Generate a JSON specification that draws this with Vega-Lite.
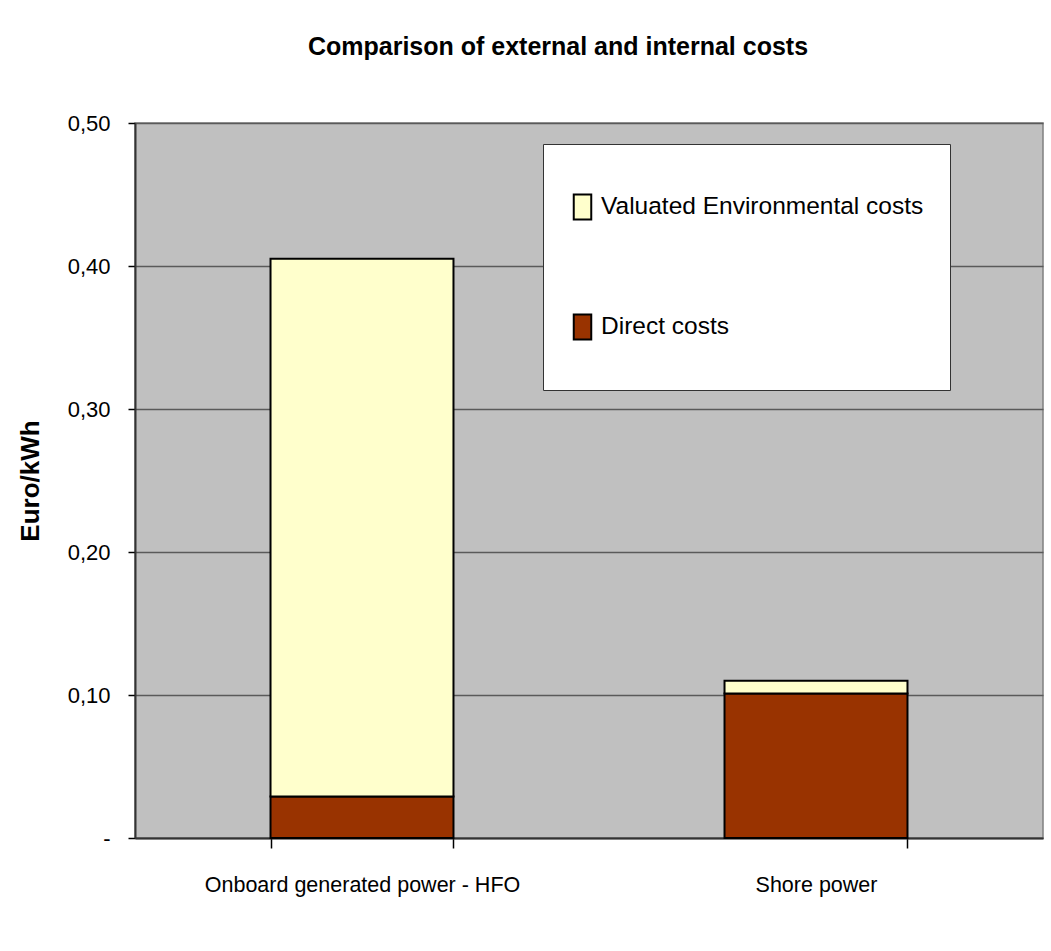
{
  "$schema": "https://vega.github.io/schema/vega-lite/v6.json",
  "width": 908,
  "height": 715,
  "autosize": {"type": "none"},
  "padding": {"left": 135, "top": 123, "right": 8, "bottom": 113},
  "background": "white",
  "title": {
    "text": "Comparison of external and internal costs",
    "font": "Liberation Sans",
    "fontSize": 25,
    "fontWeight": "bold",
    "color": "black",
    "anchor": "middle",
    "dx": -31,
    "offset": 52
  },
  "data": {
    "values": [
      {"category": "Onboard generated power - HFO", "type": "Direct costs", "value": 0.029},
      {"category": "Onboard generated power - HFO", "type": "Valuated Environmental costs", "value": 0.376},
      {"category": "Shore power", "type": "Direct costs", "value": 0.101},
      {"category": "Shore power", "type": "Valuated Environmental costs", "value": 0.009}
    ]
  },
  "mark": {"type": "bar", "stroke": "black", "strokeWidth": 2},
  "encoding": {
    "x": {
      "field": "category",
      "type": "nominal",
      "sort": null,
      "scale": {"paddingInner": 0.597, "paddingOuter": 0.2985},
      "axis": {
        "title": null,
        "labelAngle": 0,
        "labelFont": "Liberation Sans",
        "labelFontSize": 21.5,
        "labelColor": "black",
        "labelPadding": 26,
        "labelLimit": 500,
        "tickSize": 10,
        "tickColor": "black",
        "tickWidth": 1.5,
        "tickBand": "extent",
        "domainColor": "#333333",
        "domainWidth": 2,
        "grid": false
      }
    },
    "y": {
      "field": "value",
      "type": "quantitative",
      "stack": "zero",
      "scale": {"domain": [0, 0.5], "nice": false},
      "axis": {
        "title": "Euro/kWh",
        "titleFont": "Liberation Sans",
        "titleFontSize": 26,
        "titleFontWeight": "bold",
        "titleColor": "black",
        "titlePadding": 24,
        "values": [0, 0.1, 0.2, 0.3, 0.4, 0.5],
        "labelExpr": "datum.value == 0 ? '-\u00a0\u00a0\u00a0\u00a0' : replace(format(datum.value, '.2f'), '.', ',')",
        "labelFont": "Liberation Sans",
        "labelFontSize": 22,
        "labelColor": "black",
        "labelPadding": 18,
        "tickSize": 7,
        "tickColor": "black",
        "tickWidth": 1.5,
        "domainColor": "#333333",
        "domainWidth": 2,
        "gridColor": "#5a5a5a",
        "gridWidth": 1.5
      }
    },
    "order": {"field": "type", "sort": "ascending"},
    "color": {
      "field": "type",
      "type": "nominal",
      "scale": {
        "domain": ["Valuated Environmental costs", "Direct costs"],
        "range": ["#FFFFCC", "#993300"]
      },
      "legend": {
        "title": null,
        "orient": "none",
        "legendX": 408,
        "legendY": 21,
        "fillColor": "white",
        "strokeColor": "#333333",
        "padding": 26,
        "labelFont": "Liberation Sans",
        "labelFontSize": 24.5,
        "labelColor": "black",
        "labelOffset": 5,
        "labelLimit": 500,
        "symbolType": "M-0.7,-1L0.7,-1L0.7,1L-0.7,1Z",
        "symbolSize": 625,
        "symbolStrokeColor": "black",
        "symbolStrokeWidth": 2,
        "symbolOpacity": 1,
        "clipHeight": 74,
        "rowPadding": 46
      }
    }
  },
  "config": {
    "view": {"fill": "#C0C0C0", "stroke": "#808080", "strokeWidth": 1.5}
  }
}
